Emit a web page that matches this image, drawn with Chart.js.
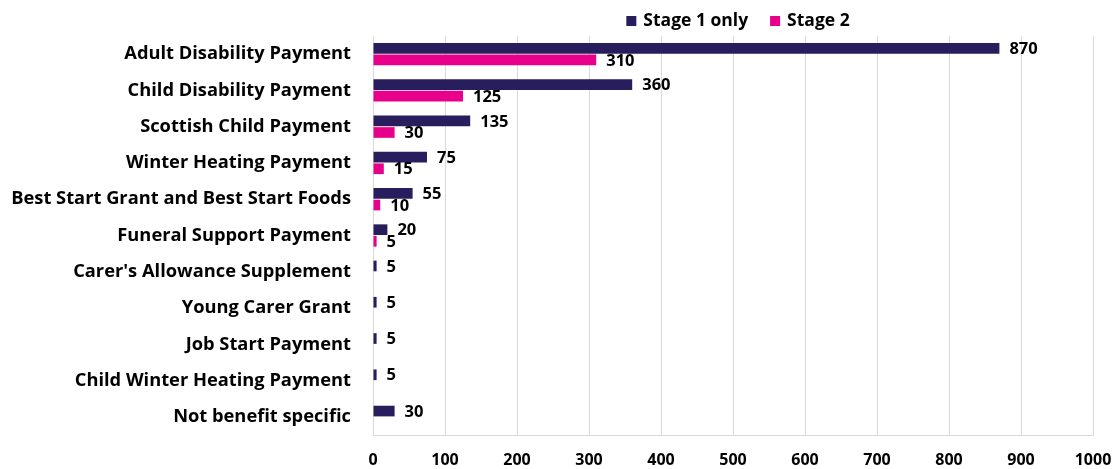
<!DOCTYPE html>
<html lang="en">
<head>
    <meta charset="UTF-8">
    <title>Benefit enquiries by stage</title>
    <script src="https://cdn.jsdelivr.net/npm/chart.js"></script>
    <style>
        html, body { margin: 0; padding: 0; background: #fff; }
        #wrap { width: 1116px; height: 469px; }
    </style>
</head>
<body>
<div id="wrap"><canvas id="myChart" width="1116" height="469"></canvas></div>
<script>
    const categories = [
        'Adult Disability Payment',
        'Child Disability Payment',
        'Scottish Child Payment',
        'Winter Heating Payment',
        'Best Start Grant and Best Start Foods',
        'Funeral Support Payment',
        "Carer's Allowance Supplement",
        'Young Carer Grant',
        'Job Start Payment',
        'Child Winter Heating Payment',
        'Not benefit specific'
    ];
    const stage1Only = [870, 360, 135, 75, 55, 20, 5, 5, 5, 5, 30];
    const stage2 = [310, 125, 30, 15, 10, 5, null, null, null, null, null];
    const seriesNames = ['Stage 1 only', 'Stage 2'];
    const seriesColors = ['#281E5D', '#E8008A'];
    const xTicks = [0, 100, 200, 300, 400, 500, 600, 700, 800, 900, 1000];

    const FONT = '"Open Sans", Lato, sans-serif';

    // value labels to the right of each bar
    const barLabels = {
        id: 'barLabels',
        afterDatasetsDraw(chart) {
            const ctx = chart.ctx;
            ctx.save();
            ctx.font = 'bold 16.5px ' + FONT;
            ctx.fillStyle = '#000';
            ctx.textBaseline = 'middle';
            chart.data.datasets.forEach((ds, i) => {
                const meta = chart.getDatasetMeta(i);
                meta.data.forEach((bar, j) => {
                    const v = ds.data[j];
                    if (v == null) return;
                    ctx.fillText(String(v), bar.x + 10, bar.y + 1);
                });
            });
            ctx.restore();
        }
    };

    // legend centred over the plot area
    const topLegend = {
        id: 'topLegend',
        afterDraw(chart) {
            const ctx = chart.ctx;
            const area = chart.chartArea;
            ctx.save();
            ctx.font = 'bold 17.5px ' + FONT;
            ctx.textBaseline = 'middle';
            const box = 10, gap = 7, spacing = 22;
            let total = 0;
            seriesNames.forEach((n, i) => {
                total += box + gap + ctx.measureText(n).width;
                if (i < seriesNames.length - 1) total += spacing;
            });
            let x = (area.left + area.right) / 2 - total / 2 + 5;
            const y = 21;
            seriesNames.forEach((n, i) => {
                ctx.fillStyle = seriesColors[i];
                ctx.fillRect(x, y - box / 2, box, box);
                x += box + gap;
                ctx.fillStyle = '#000';
                ctx.fillText(n, x, y);
                x += ctx.measureText(n).width + spacing;
            });
            ctx.restore();
        }
    };

    const ctx = document.getElementById('myChart').getContext('2d');
    new Chart(ctx, {
        type: 'bar',
        data: {
            labels: categories,
            datasets: [
                { label: seriesNames[0], data: stage1Only, backgroundColor: seriesColors[0] },
                { label: seriesNames[1], data: stage2, backgroundColor: seriesColors[1] }
            ]
        },
        options: {
            indexAxis: 'y',
            responsive: false,
            animation: false,
            categoryPercentage: 0.64,
            barPercentage: 0.92,
            layout: { padding: { top: 36, right: 23, left: 0, bottom: 0 } },
            plugins: {
                legend: { display: false },
                tooltip: { enabled: false }
            },
            scales: {
                x: {
                    min: 0,
                    max: 1000,
                    afterBuildTicks(scale) {
                        scale.ticks = xTicks.map(v => ({ value: v }));
                    },
                    afterFit(scale) {
                        scale.height = 34;
                        scale.paddingLeft = 0;
                        scale.paddingRight = 0;
                    },
                    grid: { color: '#D9D9D9', drawTicks: false },
                    border: { color: '#D9D9D9' },
                    ticks: {
                        padding: 16,
                        color: '#000',
                        font: { family: FONT, size: 16, weight: 'bold' },
                        callback: v => String(v)
                    }
                },
                y: {
                    afterFit(scale) {
                        scale.width = 373;
                    },
                    grid: { display: false, drawTicks: false },
                    border: { color: '#D9D9D9' },
                    ticks: {
                        padding: 22,
                        color: '#000',
                        font: { family: FONT, size: 18.3, weight: 'bold' }
                    }
                }
            }
        },
        plugins: [barLabels, topLegend]
    });
</script>
</body>
</html>
